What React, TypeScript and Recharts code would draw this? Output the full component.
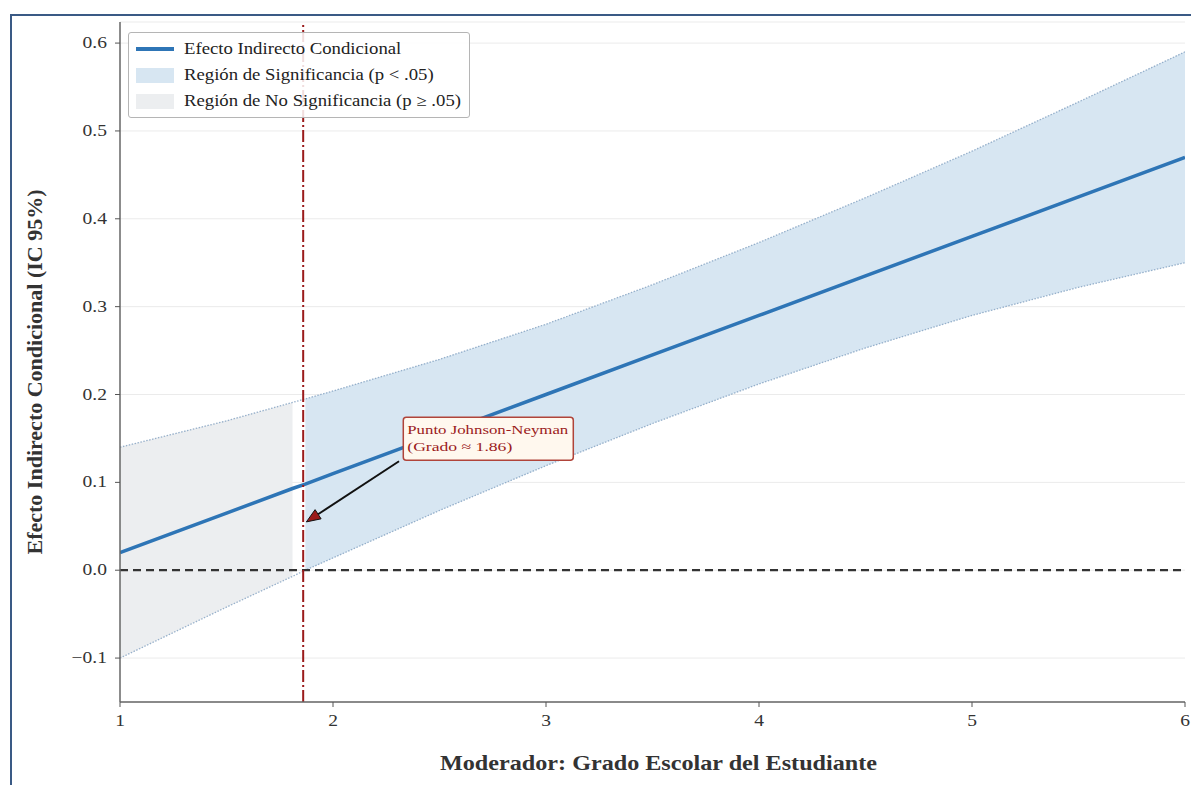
import React from "react"
import {
  ComposedChart,
  Area,
  Line,
  XAxis,
  YAxis,
  CartesianGrid,
  ReferenceLine,
  ReferenceDot,
  Label,
} from "recharts"

// Moderator values (grade) where the estimates were read
const grades = [1, 1.5, 1.81, 1.87, 2, 2.5, 3, 3.5, 4, 4.5, 5, 5.5, 6]
// Conditional indirect effect
const effect = [0.02, 0.065, 0.093, 0.098, 0.11, 0.155, 0.2, 0.245, 0.29, 0.335, 0.38, 0.425, 0.47]
// 95% CI bounds
const upper = [0.14, 0.17, 0.191, 0.195, 0.204, 0.24, 0.28, 0.325, 0.373, 0.424, 0.477, 0.533, 0.59]
const lower = [-0.1, -0.042, -0.007, 0.0, 0.014, 0.068, 0.119, 0.167, 0.212, 0.253, 0.29, 0.322, 0.35]

const jnPoint = 1.86
const yTicks = [-0.1, 0, 0.1, 0.2, 0.3, 0.4, 0.5, 0.6]
const xTicks = [1, 2, 3, 4, 5, 6]

const legendItems = [
  { label: "Efecto Indirecto Condicional", kind: "line" },
  { label: "Región de Significancia (p < .05)", kind: "sig" },
  { label: "Región de No Significancia (p ≥ .05)", kind: "nonsig" },
]

const BLUE = "#2E75B6"
const SIG_FILL = "#d7e6f2"
const NONSIG_FILL = "#eceef0"
const BOUND = "#7f9fbf"
const JN_RED = "#9b1b1b"
const SERIF = "'Liberation Serif', 'DejaVu Serif', serif"

// Build chart rows
const data = grades.map((g, i) => ({
  x: g,
  effect: effect[i],
  upper: upper[i],
  lower: lower[i],
  sig: g >= jnPoint ? [lower[i], upper[i]] : null,
  nonsig: g < jnPoint ? [lower[i], upper[i]] : null,
}))

const fmtY = (v: number) => (v < 0 ? "\u2212" + Math.abs(v).toFixed(1) : v.toFixed(1))

// the source text is a bit stretched sideways
const XTick = (props: any) => {
  const { x, y, payload } = props
  return (
    <text
      transform={`translate(${x},${y + 15}) scale(1.22,1)`}
      textAnchor="middle"
      fontFamily={SERIF}
      fontSize={16}
      fill="#333"
    >
      {payload.value}
    </text>
  )
}

const YTick = (props: any) => {
  const { x, y, payload } = props
  return (
    <text
      transform={`translate(${x - 4},${y + 5}) scale(1.22,1)`}
      textAnchor="end"
      fontFamily={SERIF}
      fontSize={16}
      fill="#333"
    >
      {fmtY(payload.value)}
    </text>
  )
}

function LegendBox() {
  return (
    <div
      style={{
        position: "absolute",
        left: 128,
        top: 32,
        width: 342,
        height: 86,
        background: "rgba(255,255,255,0.85)",
        border: "1px solid #b5b5b5",
        borderRadius: 3,
        fontFamily: SERIF,
        fontSize: 16,
        color: "#222",
        boxSizing: "border-box",
        paddingTop: 3,
      }}
    >
      {legendItems.map((it) => (
        <div key={it.label} style={{ display: "flex", alignItems: "center", height: 26 }}>
          <div style={{ width: 38, marginLeft: 7, marginRight: 10, display: "flex", alignItems: "center" }}>
            {it.kind === "line" ? (
              <div style={{ width: 38, height: 3.5, background: BLUE }} />
            ) : (
              <div style={{ width: 38, height: 15, background: it.kind === "sig" ? SIG_FILL : NONSIG_FILL }} />
            )}
          </div>
          <span style={{ display: "inline-block", transform: "scaleX(1.17)", transformOrigin: "left center", whiteSpace: "nowrap" }}>
            {it.label}
          </span>
        </div>
      ))}
    </div>
  )
}

// Arrow from the annotation box to the Johnson-Neyman point
const ArrowShape = (props: any) => {
  const { x1, y1, x2, y2 } = props
  if (x1 == null) return null
  // x1,y1 = head, x2,y2 = tail
  const ang = Math.atan2(y1 - y2, x1 - x2)
  const len = 14
  const w = 5.5
  const bx = x1 - len * Math.cos(ang)
  const by = y1 - len * Math.sin(ang)
  const p1 = `${x1},${y1}`
  const p2 = `${bx + w * Math.sin(ang)},${by - w * Math.cos(ang)}`
  const p3 = `${bx - w * Math.sin(ang)},${by + w * Math.cos(ang)}`
  return (
    <g>
      <line x1={x2} y1={y2} x2={bx} y2={by} stroke="#111" strokeWidth={2} />
      <polygon points={`${p1} ${p2} ${p3}`} fill={JN_RED} stroke="#111" strokeWidth={1} />
    </g>
  )
}

const NoteShape = (props: any) => {
  const { cx, cy } = props
  if (cx == null) return null
  return (
    <g>
      <rect x={cx} y={cy} width={170} height={43} rx={3} fill="#fff8ee" stroke="#b0443a" strokeWidth={1.5} />
      <text x={cx + 4} y={cy + 17} fill={JN_RED} fontFamily={SERIF} fontSize={13} textLength={161} lengthAdjust="spacingAndGlyphs">
        Punto Johnson-Neyman
      </text>
      <text x={cx + 4} y={cy + 34} fill={JN_RED} fontFamily={SERIF} fontSize={13} textLength={105} lengthAdjust="spacingAndGlyphs">
        (Grado ≈ 1.86)
      </text>
    </g>
  )
}

export default function App() {
  return (
    <div style={{ position: "absolute", left: 0, top: 0, width: 1191, height: 785, background: "#fff", overflow: "hidden" }}>
      <div
        style={{
          position: "absolute",
          left: 10,
          top: 14,
          width: 1300,
          height: 900,
          borderTop: "2px solid #3a5a85",
          borderLeft: "2px solid #3a5a85",
        }}
      />
      <ComposedChart
        width={1191}
        height={785}
        data={data}
        margin={{ top: 22, right: 6, left: 60, bottom: 53 }}
        style={{ position: "absolute", left: 0, top: 0 }}
      >
        <CartesianGrid vertical={false} stroke="#ebebeb" strokeWidth={1} />
        <XAxis
          dataKey="x"
          type="number"
          domain={[1, 6]}
          ticks={xTicks}
          allowDataOverflow
          height={30}
          tickSize={5}
          tickMargin={4}
          axisLine={{ stroke: "#666", strokeWidth: 1.5 }}
          tickLine={{ stroke: "#555" }}
          tick={XTick}
        >
          <Label
            content={() => (
              <text
                x={440}
                y={770}
                fontFamily={SERIF}
                fontSize={21}
                fontWeight="bold"
                fill="#333"
                textLength={437}
                lengthAdjust="spacingAndGlyphs"
              >
                Moderador: Grado Escolar del Estudiante
              </text>
            )}
          />
        </XAxis>
        <YAxis
          type="number"
          domain={[-0.15, 0.624]}
          ticks={yTicks}
          allowDataOverflow
          width={60}
          tickSize={5}
          tickMargin={4}
          axisLine={{ stroke: "#666", strokeWidth: 1.5 }}
          tickLine={{ stroke: "#555" }}
          tick={YTick}
        >
          <Label
            content={() => (
              <text
                x={42}
                y={372}
                textAnchor="middle"
                transform="rotate(-90, 42, 372)"
                fontFamily={SERIF}
                fontSize={21}
                fontWeight="bold"
                fill="#333"
                textLength={365}
                lengthAdjust="spacingAndGlyphs"
              >
                Efecto Indirecto Condicional (IC 95%)
              </text>
            )}
          />
        </YAxis>
        <Area
          dataKey="nonsig"
          type="linear"
          stroke="none"
          fill={NONSIG_FILL}
          fillOpacity={1}
          isAnimationActive={false}
          connectNulls={false}
        />
        <Area
          dataKey="sig"
          type="linear"
          stroke="none"
          fill={SIG_FILL}
          fillOpacity={1}
          isAnimationActive={false}
          connectNulls={false}
        />
        <Line
          dataKey="upper"
          type="linear"
          stroke={BOUND}
          strokeWidth={1.3}
          strokeDasharray="1.5 1.5"
          strokeOpacity={0.8}
          dot={false}
          isAnimationActive={false}
        />
        <Line
          dataKey="lower"
          type="linear"
          stroke={BOUND}
          strokeWidth={1.3}
          strokeDasharray="1.5 1.5"
          strokeOpacity={0.8}
          dot={false}
          isAnimationActive={false}
        />
        <ReferenceLine y={0} stroke="#333" strokeWidth={2.2} strokeDasharray="8 5" />
        <Line
          dataKey="effect"
          type="linear"
          stroke={BLUE}
          strokeWidth={3.5}
          dot={false}
          isAnimationActive={false}
        />
        <ReferenceLine x={jnPoint} stroke={JN_RED} strokeWidth={2} strokeDasharray="12 3 2 3" />
        <ReferenceLine
          segment={[
            { x: 1.875, y: 0.055 },
            { x: 2.31, y: 0.124 },
          ]}
          shape={ArrowShape}
        />
        <ReferenceDot x={2.33} y={0.174} r={0} shape={NoteShape} />
      </ComposedChart>
      <LegendBox />
    </div>
  )
}
